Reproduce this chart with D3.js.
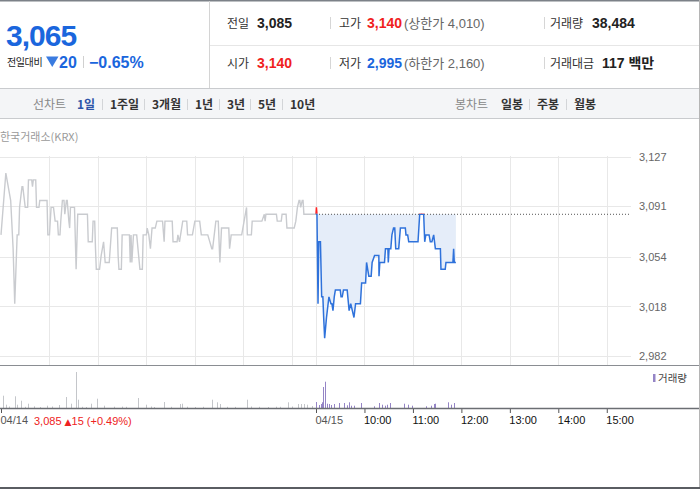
<!DOCTYPE html>
<html><head><meta charset="utf-8">
<script src="https://cdn.jsdelivr.net/npm/d3@7/dist/d3.min.js"></script>
<style>
html,body{margin:0;padding:0;background:#fff;}
svg{display:block;}
text{font-family:"Liberation Sans","Noto Sans CJK KR",sans-serif;}
.kr{font-family:"Noto Sans CJK KR","Liberation Sans",sans-serif;}
</style></head>
<body>
<script>
// ---------- data ----------
const prevClose = 3085;
const yTicks = [2982, 3018, 3054, 3091, 3127];
const yDomain = [2982, 3127];
const hourTicks = [60, 120, 180, 240, 300, 360];
const hourLabels = ["10:00", "11:00", "12:00", "13:00", "14:00", "15:00"];
const dateTicks = [-390, 0];
const dateLabels = ["04/14", "04/15"];
const prevGrid = [-330, -270, -210, -150, -90, -30];

// previous day line: [minutes from open, price]
const prevLine = [[0,3070],[6,3115],[9,3105],[12,3095],[15,3060],[17,3020],[20,3070],[22,3070],[23,3090],[26,3105],
[27,3105],[28,3100],[30,3090],[33,3090],[34,3110],[38,3110],[39,3105],[40,3110],[43,3110],[44,3090],
[47,3090],[48,3095],[57,3095],[58,3070],[60,3070],[62,3090],[65,3090],[67,3080],[70,3080],[71,3070],
[73,3070],[74,3080],[76,3095],[78,3095],[79,3085],[81,3095],[82,3095],[84,3080],[85,3075],[86,3090],
[91,3090],[93,3045],[95,3085],[107,3085],[108,3065],[113,3065],[114,3080],[116,3080],[117,3060],[118,3045],
[122,3045],[124,3055],[127,3065],[129,3050],[134,3050],[137,3075],[144,3075],[145,3055],[146,3045],[149,3045],
[150,3070],[159,3070],[160,3050],[161,3070],[162,3050],[164,3070],[168,3070],[172,3045],[175,3045],[176,3070],
[180,3070],[181,3075],[183,3070],[185,3060],[187,3075],[191,3075],[193,3080],[200,3080],[202,3065],[203,3080],
[212,3080],[213,3065],[218,3065],[219,3070],[221,3065],[225,3080],[230,3080],[231,3070],[237,3070],[240,3080],
[246,3080],[248,3070],[256,3070],[261,3060],[262,3060],[266,3080],[269,3080],[271,3050],[273,3075],[282,3075],
[283,3060],[285,3070],[298,3070],[304,3090],[305,3070],[310,3070],[311,3080],[323,3080],[326,3085],[327,3080],
[328,3085],[341,3085],[342,3080],[347,3080],[348,3085],[353,3085],[354,3075],[363,3075],[365,3080],[367,3090],
[369,3095],[370,3095],[371,3090],[373,3095],[374,3095],[375,3085],[390,3085]];

// today line: [minutes from open, price]
const todayLine = [[0,3085],[0.5,3090],[1.2,3085],[2.5,3020],[3.5,3065],[5.5,3065],[7,3025],[8.5,3025],[9.5,3010],[10.7,2995],
[13,3010],[16,3025],[18.5,3020],[19.7,3020],[21,3015],[22.6,3025],[24,3030],[30,3030],[31,3025],[32.5,3025],
[34,3030],[38.6,3030],[41,3015],[43,3020],[45,3015],[47,3010],[49,3020],[55,3020],[56.5,3035],[61.4,3035],
[62.6,3050],[64,3045],[65.4,3040],[68.3,3040],[69.5,3050],[72.5,3055],[77.8,3055],[78,3040],[79,3050],[84.8,3050],
[86,3060],[89,3060],[89.5,3050],[90.5,3060],[92.6,3060],[94,3070],[96,3075],[97.5,3075],[98.7,3060],[102.4,3060],
[104.5,3075],[110.6,3075],[111.4,3070],[113.5,3070],[114.8,3065],[126.3,3065],[128.4,3085],[133.3,3085],[134.6,3065],[136,3070],
[140,3070],[141.5,3065],[143.5,3065],[145.7,3070],[147.8,3060],[154,3060],[154.7,3045],[160,3045],[160.9,3050],[169.5,3050],
[170.4,3060],[171.2,3050],[173.2,3050]];

// volume bars: [minutes from open, shares]
const prevVol = [[2,1230],[6,330],[10,150],[17,1170],[20,330],[25,730],[30,120],[33,430],[41,170],[48,100],
[57,230],[63,150],[72,300],[80,1100],[87,430],[93,3600],[95,830],[100,120],[105,100],[111,430],
[119,930],[128,230],[140,130],[150,140],[155,120],[170,1000],[180,330],[186,150],[190,100],[202,600],
[210,120],[222,400],[224,430],[230,130],[240,100],[250,120],[261,830],[267,570],[271,400],[280,120],
[290,110],[305,830],[310,150],[320,120],[330,100],[340,130],[345,120],[355,570],[360,150],[368,400],
[371,400],[375,400],[379,330],[385,200]];
const todayVol = [[0,600],[4,300],[6,400],[7,570],[9,2100],[11,2630],[14,430],[16,400],[19,300],[22,400],
[28,500],[35,500],[38,270],[41,570],[43,230],[47,230],[56,500],[72,170],[78,500],[82,330],
[85,230],[88,330],[92,500],[109,430],[114,330],[119,230],[136,170],[142,230],[146,400],[147,430],
[163,570],[167,330],[171,500]];

// header values
const curPrice = "3,065", chgAbs = "20", chgPct = "−0.65%";
const infoRow1 = [["전일","3,085","#222",""],["고가","3,140","#f01e1e","(상한가 4,010)"],["거래량","38,484","#222",""]];
const infoRow2 = [["시가","3,140","#f01e1e",""],["저가","2,995","#1a66dd","(하한가 2,160)"],["거래대금","117 백만","#222",""]];
const lineTabs = ["1일","1주일","3개월","1년","3년","5년","10년"];
const candleTabs = ["일봉","주봉","월봉"];

// ---------- drawing ----------
const W = 700, H = 490;
const svg = d3.select("body").append("svg").attr("width", W).attr("height", H);

// header frame
svg.append("rect").attr("x",0).attr("y",0).attr("width",W).attr("height",1.5).attr("fill","#7c8188");
svg.append("line").attr("x1",209.5).attr("x2",209.5).attr("y1",1).attr("y2",88).attr("stroke","#d4d4d4");
svg.append("line").attr("x1",210).attr("x2",W).attr("y1",45.5).attr("y2",45.5).attr("stroke","#e6e6e6");
svg.append("rect").attr("x",0).attr("y",88).attr("width",W).attr("height",31).attr("fill","#f4f5f7");
svg.append("line").attr("x1",0).attr("x2",W).attr("y1",88.5).attr("y2",88.5).attr("stroke","#c9cbce");
svg.append("line").attr("x1",0).attr("x2",W).attr("y1",118.5).attr("y2",118.5).attr("stroke","#c9cbce");

// current price box
const blue = "#1a66dd";
svg.append("text").attr("x",6).attr("y",46).attr("font-size",30).attr("font-weight","bold")
  .attr("letter-spacing",-1).attr("fill",blue).text(curPrice);
svg.append("text").attr("class","kr").attr("x",7).attr("y",66).attr("font-size",10).attr("letter-spacing",-0.4).attr("fill","#222").text("전일대비");
svg.append("path").attr("d","M46,56.5L58.5,56.5L52.25,67Z").attr("fill","#3a7be0");
svg.append("text").attr("x",59).attr("y",68).attr("font-size",16).attr("font-weight","bold").attr("fill",blue).text(chgAbs);
svg.append("line").attr("x1",83.5).attr("x2",83.5).attr("y1",56).attr("y2",68).attr("stroke","#d0d0d0");
svg.append("text").attr("x",89).attr("y",68).attr("font-size",16).attr("font-weight","bold").attr("fill",blue).text(chgPct);

// info rows
const colX = [[227,257],[339,367],[550,592]];
const extraX = 404;
function infoRow(row, by){
  row.forEach((r,i)=>{
    svg.append("text").attr("class","kr").attr("x",colX[i][0]).attr("y",by).attr("font-size",12).attr("fill","#333").text(r[0]);
    let vx = colX[i][1]; if(i===2 && r[0]==="거래대금") vx = 602;
    svg.append("text").attr("x",vx).attr("y",by).attr("font-size",14).attr("font-weight","bold").attr("fill",r[2]).text(r[1]);
    if(r[3]) svg.append("text").attr("x",extraX).attr("y",by).attr("font-size",13).attr("fill","#666").text(r[3]);
  });
  [330.5,544.5].forEach(sx=>svg.append("line").attr("x1",sx).attr("x2",sx).attr("y1",by-11).attr("y2",by+1).attr("stroke","#d6d6d6"));
}
infoRow(infoRow1, 28);
infoRow(infoRow2, 68);

// toolbar
const tbY = 108.5;
svg.append("text").attr("class","kr").attr("x",33).attr("y",tbY).attr("font-size",12).attr("fill","#888").text("선차트");
const tabX = [77,110,152,195,227,258,290];
lineTabs.forEach((t,i)=>{
  svg.append("text").attr("class","kr").attr("x",tabX[i]).attr("y",tbY).attr("font-size",12).attr("font-weight","bold")
    .attr("fill", i===0 ? "#2d54a8" : "#333").text(t);
  if(i>0) svg.append("line").attr("x1",tabX[i]-7.5).attr("x2",tabX[i]-7.5).attr("y1",99).attr("y2",110).attr("stroke","#d3d5d8");
});
svg.append("text").attr("class","kr").attr("x",455).attr("y",tbY).attr("font-size",12).attr("fill","#888").text("봉차트");
const ctX = [501,537,574];
candleTabs.forEach((t,i)=>{
  svg.append("text").attr("class","kr").attr("x",ctX[i]).attr("y",tbY).attr("font-size",12).attr("font-weight","bold").attr("fill","#333").text(t);
  if(i>0) svg.append("line").attr("x1",ctX[i]-7.5).attr("x2",ctX[i]-7.5).attr("y1",99).attr("y2",110).attr("stroke","#d3d5d8");
});

// chart
svg.append("text").attr("class","kr").attr("x",0).attr("y",141).attr("font-size",11).attr("fill","#9a9a9a").text("한국거래소(KRX)");

const x = d3.scaleLinear().domain([-390, 390]).range([1, 631]);
const y = d3.scaleLinear().domain(yDomain).range([356, 156.5]);
const plotR = 631, plotTop = 156, plotBot = 365;

// grid
const grid = svg.append("g");
yTicks.forEach(v=>grid.append("line").attr("x1",0).attr("x2",plotR).attr("y1",Math.round(y(v))+0.5).attr("y2",Math.round(y(v))+0.5).attr("stroke","#e8e8e8"));
prevGrid.concat([0]).concat(hourTicks).forEach(v=>grid.append("line").attr("x1",Math.round(x(v))+0.5).attr("x2",Math.round(x(v))+0.5)
  .attr("y1",plotTop).attr("y2",plotBot).attr("stroke","#e8e8e8"));

// y axis labels
const yAxis = d3.axisRight(y).tickValues(yTicks).tickSize(0).tickPadding(0).tickFormat(d3.format(","));
const ya = svg.append("g").attr("transform",`translate(639,0)`).call(yAxis);
ya.select(".domain").remove();
ya.selectAll("text").attr("font-size",11).attr("fill","#666").attr("font-family","Liberation Sans, sans-serif");

// previous day line
const prevX = m => x(m - 390);
const lineP = d3.line().x(d=>prevX(d[0])).y(d=>y(d[1]));
svg.append("path").datum(prevLine).attr("d",lineP).attr("fill","none").attr("stroke","#c9cbcf").attr("stroke-width",1.4);

// today
const base = y(prevClose);
const area = d3.area().x(d=>x(d[0])).y0(base).y1(d=>y(d[1]));
svg.append("path").datum(todayLine).attr("d",area).attr("fill","#e5edf9");
svg.append("line").attr("x1",x(0)).attr("x2",plotR).attr("y1",base).attr("y2",base)
  .attr("stroke","#555").attr("stroke-dasharray","1,2");
const defs = svg.append("defs");
defs.append("clipPath").attr("id","above").append("rect").attr("x",0).attr("y",0).attr("width",W).attr("height",base-0.6);
defs.append("clipPath").attr("id","below").append("rect").attr("x",0).attr("y",base-0.6).attr("width",W).attr("height",H);
const lineT = d3.line().x(d=>x(d[0])).y(d=>y(d[1]));
svg.append("path").datum(todayLine).attr("d",lineT).attr("fill","none").attr("stroke","#f22").attr("stroke-width",1.5).attr("clip-path","url(#above)");
svg.append("path").datum(todayLine).attr("d",lineT).attr("fill","none").attr("stroke","#2f72db").attr("stroke-width",1.5).attr("clip-path","url(#below)");

// panel separator
svg.append("line").attr("x1",0).attr("x2",W).attr("y1",365.5).attr("y2",365.5).attr("stroke","#8a8d92");

// volume
const vBase = 408;
const yv = d3.scaleLinear().domain([0, 3600]).range([vBase, 372]);
svg.append("g").selectAll("rect").data(prevVol).join("rect")
  .attr("x",d=>Math.round(prevX(d[0]))).attr("width",1).attr("y",d=>yv(d[1])).attr("height",d=>vBase-yv(d[1])).attr("fill","#c4c6ca");
svg.append("g").selectAll("rect").data(todayVol).join("rect")
  .attr("x",d=>Math.round(x(d[0]))).attr("width",1).attr("y",d=>yv(d[1])).attr("height",d=>vBase-yv(d[1])).attr("fill","#9585c6");
svg.append("rect").attr("x",653).attr("y",374).attr("width",2.5).attr("height",8).attr("fill","#9585c6");
svg.append("text").attr("class","kr").attr("x",658).attr("y",382).attr("font-size",10.5).attr("fill","#444").text("거래량");

// time axis
const tickVals = dateTicks.concat(hourTicks);
const tickLabs = dateLabels.concat(hourLabels);
const xAxis = d3.axisBottom(x).tickValues(tickVals).tickSize(5).tickPadding(3)
  .tickFormat((d,i)=>tickLabs[i]);
const xa = svg.append("g").attr("transform",`translate(0,${vBase})`).call(xAxis);
xa.select(".domain").remove();
xa.selectAll(".tick line").attr("stroke","#555");
xa.selectAll("text").attr("text-anchor","start").attr("dx",-1).attr("font-size",11)
  .attr("font-family","Liberation Sans, sans-serif")
  .attr("fill",(d)=> d<=0 ? "#555" : "#111");
svg.append("line").attr("x1",0).attr("x2",W).attr("y1",vBase+0.5).attr("y2",vBase+0.5).attr("stroke","#6b6e73").attr("stroke-width",1.3);
svg.append("text").attr("x",34).attr("y",424.5).attr("font-size",11).attr("fill","#ee2222")
  .html('3,085 <tspan font-family="DejaVu Sans" font-size="9">▲</tspan>15 (+0.49%)');

// outer borders
svg.append("line").attr("x1",699.5).attr("x2",699.5).attr("y1",0).attr("y2",488).attr("stroke","#b5b5b5");
svg.append("rect").attr("x",0).attr("y",487).attr("width",W).attr("height",2).attr("fill","#5a5d62");
</script>
</body></html>
